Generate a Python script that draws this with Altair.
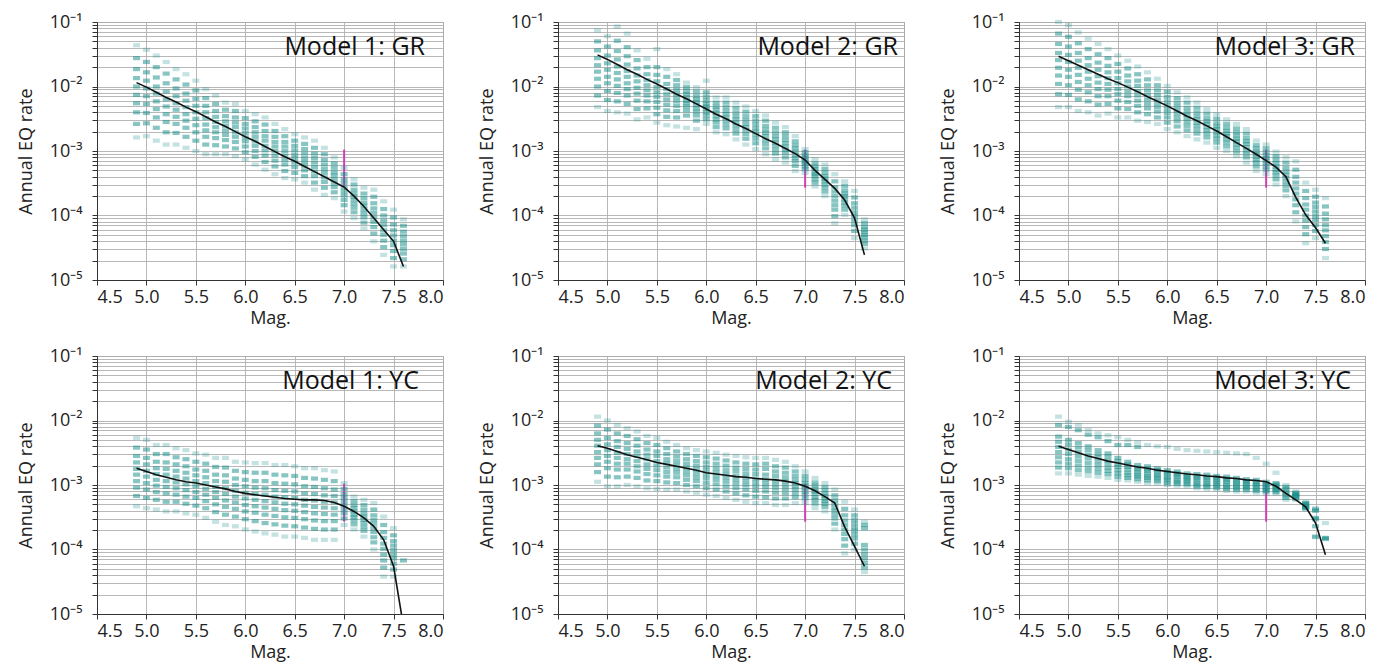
import altair as alt
import pandas as pd

FONT = "Open Sans"
MAGS = [4.9, 5.0, 5.1, 5.2, 5.3, 5.4, 5.5, 5.6, 5.7, 5.8, 5.9, 6.0, 6.1, 6.2,
        6.3, 6.4, 6.5, 6.6, 6.7, 6.8, 6.9, 7.0, 7.1, 7.2, 7.3, 7.4, 7.5, 7.6]
TITLES = ["Model 1: GR", "Model 2: GR", "Model 3: GR",
          "Model 1: YC", "Model 2: YC", "Model 3: YC"]
X_TICKS = [4.5, 5.0, 5.5, 6.0, 6.5, 7.0, 7.5, 8.0]
DECADES = [1e-5, 1e-4, 1e-3, 1e-2, 1e-1]
Y_LABELS = ["10\u207b\u2075", "10\u207b\u2074", "10\u207b\u00b3", "10\u207b\u00b2", "10\u207b\u00b9"]

# paleoseismic constraint at M7.0
PALEO_MAG = [7.0]
PALEO_LO = [2.7e-4]
PALEO_HI = [1.05e-3]

# mean curves: annual rate exponents, in hundredths (rate = 10^(-v/100))
MEAN_GR1 = [194, 201, 209, 217, 224, 232, 239, 247, 255, 262, 270, 278, 285, 293,
            301, 309, 316, 324, 332, 340, 348, 356, 370, 386, 404, 422, 440, 479]
MEAN_GR2 = [151, 158, 166, 174, 181, 189, 196, 204, 212, 219, 227, 235, 243, 250,
            258, 265, 273, 281, 288, 296, 304, 314, 330, 344, 358, 376, 404, 461]
MEAN_GR3 = [153, 160, 167, 174, 181, 188, 194, 201, 208, 216, 223, 230, 238, 246,
            253, 261, 269, 278, 287, 296, 305, 315, 325, 340, 372, 399, 419, 443]
MEAN_YC1 = [274, 279, 284, 288, 292, 295, 297, 300, 303, 306, 310, 313, 315, 317,
            319, 321, 322, 323, 323, 324, 327, 333, 341, 351, 364, 385, 426, 519]
MEAN_YC2 = [239, 243, 248, 253, 257, 261, 265, 268, 271, 274, 277, 281, 283, 285,
            287, 288, 290, 291, 292, 294, 297, 302, 309, 318, 328, 365, 395, 426]
MEAN_YC3 = [240, 245, 250, 255, 259, 263, 266, 269, 272, 274, 277, 279, 281, 283,
            284, 286, 287, 289, 290, 292, 293, 295, 302, 313, 323, 334, 359, 408]

# logic-tree branch rates, one list per magnitude bin (same units)
SAMP_GR1 = [
    [136, 156, 173, 187, 200, 213, 226, 240, 258, 279],
    [143, 162, 178, 191, 203, 215, 227, 241, 257, 277],
    [152, 170, 186, 200, 211, 223, 235, 248, 264, 284],
    [162, 180, 195, 208, 220, 231, 243, 255, 271, 290],
    [173, 189, 203, 215, 226, 236, 247, 258, 272, 290],
    [181, 197, 211, 222, 232, 243, 253, 264, 278, 295],
    [191, 206, 219, 230, 240, 250, 260, 271, 284, 300],
    [204, 218, 230, 240, 249, 259, 268, 278, 290, 305],
    [214, 227, 238, 247, 255, 263, 271, 280, 291, 305],
    [225, 236, 246, 254, 261, 268, 275, 283, 293, 305],
    [227, 238, 248, 256, 263, 271, 278, 286, 296, 308],
    [238, 249, 258, 265, 272, 279, 285, 293, 302, 313],
    [243, 254, 263, 271, 278, 285, 292, 300, 309, 321],
    [248, 259, 269, 277, 284, 292, 299, 307, 317, 329],
    [258, 269, 278, 286, 293, 300, 307, 315, 324, 336],
    [266, 277, 286, 293, 300, 307, 314, 321, 331, 342],
    [274, 284, 292, 299, 306, 312, 318, 325, 334, 344],
    [279, 289, 297, 304, 311, 317, 323, 330, 339, 349],
    [284, 295, 304, 311, 318, 325, 332, 339, 349, 360],
    [295, 305, 314, 321, 328, 334, 341, 348, 357, 368],
    [310, 319, 326, 333, 338, 344, 350, 356, 364, 373],
    [326, 336, 344, 350, 357, 363, 369, 376, 384, 394],
    [344, 352, 360, 366, 371, 376, 382, 388, 395, 404],
    [357, 366, 373, 380, 385, 391, 397, 403, 411, 420],
    [360, 371, 381, 389, 396, 403, 410, 418, 428, 440],
    [378, 390, 400, 408, 415, 423, 430, 439, 449, 461],
    [391, 403, 414, 423, 431, 439, 446, 455, 466, 479],
    [406, 416, 425, 432, 439, 445, 452, 459, 468, 479],
]
SAMP_GR2 = [
    [113, 130, 144, 156, 167, 177, 188, 200, 214, 232],
    [122, 138, 152, 164, 174, 185, 195, 207, 221, 238],
    [107, 129, 145, 158, 169, 179, 189, 199, 210, 223, 240],
    [118, 139, 153, 166, 176, 185, 195, 204, 214, 227, 242],
    [144, 159, 172, 183, 192, 202, 211, 222, 235, 251],
    [157, 170, 181, 190, 198, 206, 214, 223, 234, 248],
    [142, 170, 182, 192, 201, 209, 216, 224, 233, 243, 256],
    [173, 185, 196, 204, 212, 220, 228, 237, 247, 260],
    [181, 190, 198, 205, 211, 217, 223, 230, 238, 248, 262],
    [194, 201, 207, 212, 217, 222, 226, 231, 237, 245, 264],
    [201, 208, 215, 220, 224, 229, 234, 239, 245, 253, 266],
    [191, 209, 216, 222, 227, 231, 235, 240, 245, 251, 258],
    [217, 225, 231, 236, 241, 246, 251, 256, 263, 271],
    [217, 225, 232, 238, 243, 248, 253, 259, 265, 274],
    [225, 233, 240, 246, 251, 256, 261, 267, 273, 282],
    [231, 239, 246, 252, 258, 263, 268, 274, 281, 290],
    [238, 246, 253, 259, 265, 270, 275, 281, 288, 297],
    [245, 253, 261, 267, 272, 277, 283, 289, 296, 305],
    [256, 264, 271, 277, 282, 287, 292, 298, 304, 313],
    [263, 271, 277, 283, 288, 293, 298, 303, 310, 318],
    [277, 285, 291, 296, 301, 306, 311, 316, 323, 331],
    [297, 302, 307, 310, 314, 317, 320, 324, 328, 334],
    [313, 319, 324, 328, 332, 336, 339, 344, 349, 355],
    [321, 328, 334, 339, 343, 347, 352, 357, 363, 370],
    [336, 347, 356, 363, 370, 377, 384, 391, 401, 412],
    [347, 354, 361, 366, 370, 375, 380, 385, 391, 399],
    [362, 372, 381, 388, 395, 401, 408, 415, 424, 435],
    [406, 412, 418, 422, 426, 430, 434, 439, 444, 451],
]
SAMP_GR3 = [
    [100, 118, 134, 148, 159, 171, 183, 196, 212, 232],
    [105, 123, 138, 151, 162, 174, 185, 198, 213, 232],
    [116, 133, 148, 160, 171, 182, 193, 205, 220, 238],
    [126, 142, 156, 167, 177, 188, 198, 209, 223, 240],
    [134, 150, 163, 174, 184, 194, 204, 215, 228, 245],
    [142, 156, 168, 178, 187, 196, 205, 215, 227, 242],
    [152, 165, 177, 187, 195, 204, 212, 222, 234, 248],
    [160, 172, 183, 192, 200, 208, 215, 224, 235, 248],
    [169, 181, 191, 199, 207, 214, 222, 230, 240, 253],
    [178, 189, 198, 206, 213, 220, 227, 234, 243, 255],
    [188, 198, 206, 213, 220, 226, 232, 239, 248, 258],
    [199, 208, 216, 223, 229, 235, 241, 248, 256, 266],
    [209, 218, 225, 231, 237, 242, 248, 254, 262, 271],
    [217, 225, 233, 239, 244, 249, 255, 261, 268, 277],
    [225, 233, 240, 246, 251, 256, 261, 267, 273, 282],
    [235, 242, 249, 254, 258, 263, 268, 273, 279, 287],
    [243, 250, 257, 262, 266, 271, 276, 281, 287, 295],
    [251, 258, 264, 269, 273, 277, 282, 287, 293, 300],
    [258, 265, 271, 276, 281, 285, 290, 295, 301, 308],
    [266, 273, 280, 285, 289, 294, 299, 304, 310, 318],
    [284, 291, 296, 301, 305, 309, 314, 318, 324, 331],
    [290, 296, 302, 307, 311, 315, 319, 324, 329, 336],
    [301, 308, 314, 319, 324, 329, 333, 338, 344, 352],
    [310, 318, 326, 332, 337, 342, 348, 354, 361, 370],
    [316, 329, 340, 349, 358, 366, 375, 384, 395, 409],
    [349, 362, 373, 383, 391, 400, 408, 418, 429, 443],
    [360, 371, 380, 387, 394, 401, 407, 415, 424, 435],
    [373, 386, 397, 406, 415, 423, 432, 441, 452, 466],
]
SAMP_YC1 = [
    [227, 242, 255, 265, 275, 284, 294, 304, 317, 333],
    [230, 245, 258, 268, 278, 287, 297, 307, 320, 336],
    [238, 252, 264, 274, 283, 292, 301, 311, 323, 338],
    [238, 252, 265, 275, 284, 294, 303, 313, 326, 341],
    [243, 257, 268, 278, 287, 296, 305, 315, 326, 341],
    [246, 260, 271, 281, 290, 299, 308, 318, 329, 344],
    [251, 264, 276, 285, 294, 302, 311, 320, 332, 346],
    [253, 267, 278, 288, 297, 306, 315, 325, 336, 351],
    [258, 272, 284, 294, 303, 311, 320, 330, 342, 357],
    [258, 273, 285, 295, 305, 314, 324, 334, 346, 362],
    [264, 278, 290, 300, 309, 318, 327, 337, 349, 364],
    [265, 280, 292, 302, 312, 321, 331, 341, 353, 369],
    [266, 281, 294, 304, 314, 323, 333, 343, 356, 372],
    [266, 281, 294, 305, 315, 325, 335, 346, 359, 375],
    [269, 284, 297, 308, 318, 327, 337, 348, 361, 377],
    [269, 285, 298, 309, 319, 329, 339, 350, 363, 380],
    [271, 286, 299, 310, 320, 330, 340, 351, 364, 380],
    [274, 289, 302, 313, 323, 332, 342, 353, 366, 382],
    [274, 290, 303, 314, 324, 334, 344, 355, 368, 385],
    [277, 292, 305, 316, 326, 335, 345, 356, 369, 385],
    [279, 294, 307, 317, 327, 336, 346, 356, 369, 385],
    [297, 306, 314, 320, 326, 332, 338, 344, 352, 362],
    [318, 325, 331, 336, 341, 346, 350, 355, 361, 369],
    [323, 331, 338, 344, 349, 354, 359, 365, 371, 380],
    [328, 338, 347, 354, 360, 367, 373, 381, 389, 400],
    [349, 362, 373, 382, 391, 399, 408, 417, 428, 442],
    [367, 378, 387, 394, 401, 408, 414, 422, 431, 442],
    [417],
]
SAMP_YC2 = [
    [194, 208, 220, 230, 239, 249, 258, 268, 280, 295],
    [200, 214, 227, 237, 246, 255, 264, 274, 287, 302],
    [207, 220, 232, 241, 250, 258, 267, 276, 288, 302],
    [212, 224, 235, 244, 252, 260, 267, 276, 287, 300],
    [217, 229, 239, 248, 255, 263, 271, 279, 289, 302],
    [224, 235, 245, 253, 260, 268, 275, 283, 293, 305],
    [227, 238, 248, 255, 263, 270, 277, 285, 294, 306],
    [233, 243, 252, 260, 266, 273, 280, 287, 296, 307],
    [238, 248, 256, 263, 269, 275, 281, 288, 297, 307],
    [243, 252, 260, 267, 273, 279, 285, 292, 300, 310],
    [246, 255, 263, 270, 276, 282, 288, 294, 302, 312],
    [248, 257, 265, 272, 278, 284, 290, 297, 305, 315],
    [250, 259, 267, 274, 280, 286, 292, 299, 307, 317],
    [253, 262, 270, 277, 283, 289, 295, 302, 310, 320],
    [255, 265, 273, 279, 286, 292, 298, 305, 313, 323],
    [257, 267, 275, 282, 288, 294, 300, 307, 316, 326],
    [258, 268, 276, 283, 290, 296, 302, 309, 318, 328],
    [258, 267, 275, 284, 291, 297, 303, 310, 319, 328],
    [261, 271, 279, 286, 293, 299, 305, 312, 321, 331],
    [264, 273, 281, 288, 294, 300, 306, 313, 321, 331],
    [271, 279, 286, 292, 297, 302, 307, 313, 319, 328],
    [279, 286, 292, 297, 301, 305, 310, 315, 321, 328],
    [289, 296, 301, 306, 310, 314, 319, 323, 329, 336],
    [297, 303, 308, 313, 317, 321, 325, 329, 334, 341],
    [307, 316, 323, 329, 335, 340, 346, 352, 360, 369],
    [326, 337, 347, 355, 362, 369, 376, 384, 394, 406],
    [338, 347, 354, 360, 366, 371, 377, 383, 391, 400],
    [357, 362, 367, 393, 400, 407, 414, 421, 428, 435],
]
SAMP_YC3 = [
    [194, 207, 225, 233, 241, 249, 257, 265, 273, 282],
    [202, 210, 230, 237, 245, 252, 260, 267, 274, 282],
    [207, 215, 235, 242, 249, 256, 263, 270, 277, 284],
    [215, 222, 240, 246, 253, 259, 266, 273, 279, 286],
    [220, 226, 246, 252, 257, 263, 269, 275, 281, 287],
    [223, 232, 251, 256, 262, 267, 273, 278, 283, 289],
    [226, 238, 258, 263, 268, 272, 277, 282, 287, 292],
    [230, 238, 264, 268, 272, 276, 281, 285, 289, 293],
    [234, 241, 269, 273, 276, 280, 284, 287, 291, 295],
    [238, 271, 275, 278, 282, 286, 289, 293, 297],
    [240, 274, 277, 280, 284, 287, 290, 294, 297],
    [241, 277, 280, 283, 287, 290, 293, 297, 300],
    [244, 279, 282, 285, 288, 292, 295, 298, 301],
    [246, 282, 285, 288, 290, 293, 296, 299, 302],
    [247, 283, 286, 289, 292, 296, 299, 302, 305],
    [248, 284, 287, 290, 293, 297, 300, 303, 306],
    [249, 286, 289, 292, 295, 298, 301, 304, 307],
    [250, 287, 290, 293, 296, 300, 303, 306, 309],
    [251, 289, 292, 295, 298, 301, 304, 307, 310],
    [252, 291, 294, 296, 299, 302, 304, 307, 310],
    [258, 292, 295, 298, 300, 303, 306, 309, 312],
    [267, 295, 298, 300, 303, 305, 308, 310, 313],
    [281, 297, 299, 301, 304, 306, 308, 311, 313],
    [300, 303, 306, 310, 313, 316, 320, 323],
    [310, 312, 314, 315, 317, 319, 321, 323],
    [326, 328, 329, 331, 333, 335, 336, 338],
    [336, 338, 340, 351, 353, 364, 380, 381],
    [359, 382, 383, 384],
]

MEANS = [MEAN_GR1, MEAN_GR2, MEAN_GR3, MEAN_YC1, MEAN_YC2, MEAN_YC3]
SAMPLES = [SAMP_GR1, SAMP_GR2, SAMP_GR3, SAMP_YC1, SAMP_YC2, SAMP_YC3]
TITLE_RIGHT = [18, 6, 10, 24, 12, 14]

W, H = 346, 258
TEAL = "#0f8c86"
EDGE_OPACITY = 0.25
CORE_OPACITY = 0.5

y_values = [k * d for d in DECADES[:-1] for k in range(1, 10)] + [DECADES[-1]]
label_expr = " : ".join(
    f"datum.value == {d!r} ? '{lab}'" for d, lab in zip(DECADES, Y_LABELS)
) + " : ''"


def to_rate(v):
    return 10 ** (-v / 100.0)


def panel(i):
    tick_rows = []
    for m, vs in zip(MAGS, SAMPLES[i]):
        lo, hi = min(vs), max(vs)
        for v in vs:
            edge = (v == lo or v == hi) and len(vs) > 2
            tick_rows.append({"mag": m, "rate": to_rate(v),
                              "op": EDGE_OPACITY if edge else CORE_OPACITY})
    ticks_df = pd.DataFrame(tick_rows)
    line_df = pd.DataFrame({"mag": MAGS, "rate": [to_rate(v) for v in MEANS[i]]})
    paleo_df = pd.DataFrame({"mag": PALEO_MAG, "lo": PALEO_LO, "hi": PALEO_HI})
    title_df = pd.DataFrame({"t": [TITLES[i]]})

    xs = alt.Scale(domain=[4.5, 8.0], nice=False, zero=False)
    ys = alt.Scale(type="log", domain=[1e-5, 1e-1], nice=False)
    xaxis = alt.Axis(values=X_TICKS, format=".1f", title="Mag.", grid=True,
                     labelOverlap=False, tickSize=5, labelPadding=3, titlePadding=3)
    yaxis = alt.Axis(values=y_values, labelExpr=label_expr, title="Annual EQ rate",
                     grid=True, labelOverlap=False, tickSize=5, labelPadding=10,
                     titlePadding=14)

    paleo = alt.Chart(paleo_df).mark_rule(color="#d23cb4", strokeWidth=2).encode(
        x=alt.X("mag:Q", scale=xs, axis=xaxis),
        y=alt.Y("lo:Q", scale=ys, axis=yaxis),
        y2="hi:Q",
    )
    ticks = alt.Chart(ticks_df).mark_tick(
        orient="horizontal", size=7, thickness=4.2, color=TEAL
    ).encode(
        x=alt.X("mag:Q", scale=xs, axis=xaxis),
        y=alt.Y("rate:Q", scale=ys, axis=yaxis),
        opacity=alt.Opacity("op:Q", scale=None, legend=None),
    )
    line = alt.Chart(line_df).mark_line(color="#111111", strokeWidth=1.6, clip=True).encode(
        x=alt.X("mag:Q", scale=xs, axis=xaxis),
        y=alt.Y("rate:Q", scale=ys, axis=yaxis),
    )
    title = alt.Chart(title_df).mark_text(
        align="right", baseline="alphabetic", fontSize=25, font=FONT, color="#111111"
    ).encode(
        x=alt.value(W - TITLE_RIGHT[i]),
        y=alt.value(33),
        text="t:N",
    )
    return alt.layer(paleo, ticks, line, title).properties(width=W, height=H)


rows = [
    alt.hconcat(*[panel(i) for i in range(0, 3)], spacing=33),
    alt.hconcat(*[panel(i) for i in range(3, 6)], spacing=33),
]
chart = alt.vconcat(*rows, spacing=18).properties(
    padding={"left": 8, "top": 4, "right": 0, "bottom": 0}
).configure_view(
    stroke="#8a8a8a", strokeWidth=1
).configure_axis(
    domainColor="#333333", tickColor="#333333", gridColor="#b0b0b0", gridWidth=0.9,
    labelFont=FONT, labelFontSize=18, labelColor="#222222",
    titleFont=FONT, titleFontSize=18, titleFontWeight="normal", titleColor="#222222",
)

chart.save("out.html", embed_options={"renderer": "svg", "actions": False})
